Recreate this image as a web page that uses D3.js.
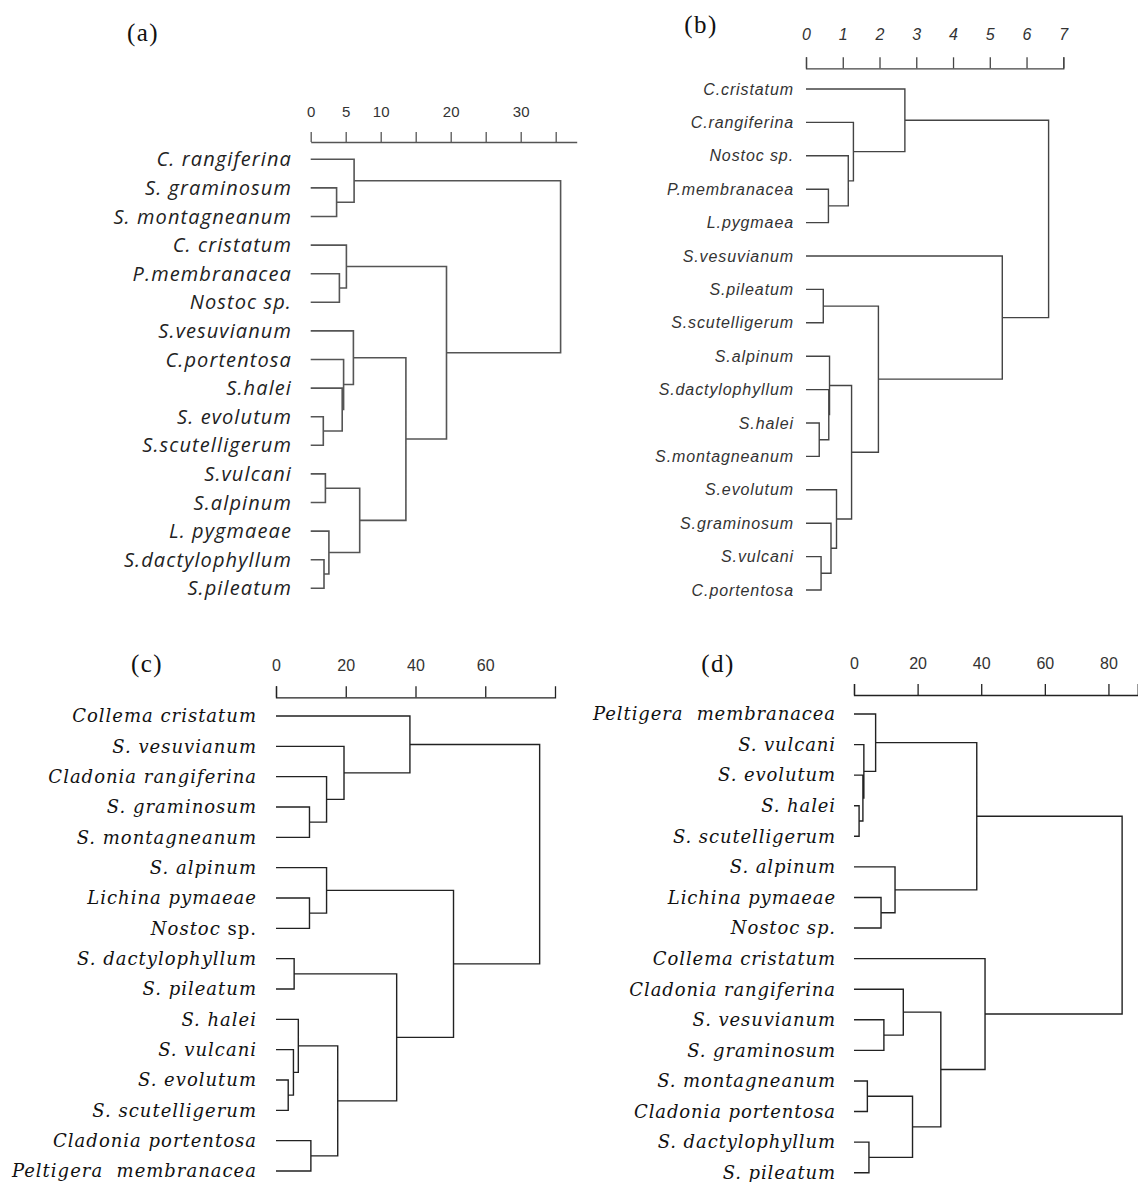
<!DOCTYPE html>
<html>
<head>
<meta charset="utf-8">
<script src="https://cdn.jsdelivr.net/npm/d3@7"></script>
<style>
  body { margin: 0; background: #fff; }
  svg text { white-space: pre; }
</style>
</head>
<body>
<div class="d3-container"></div>
<script>
// leaf order (top to bottom) and merges [left, right, height]; merge k makes node leaves.length + k
const leavesA = ["C. rangiferina", "S. graminosum", "S. montagneanum", "C. cristatum", "P.membranacea",
  "Nostoc sp.", "S.vesuvianum", "C.portentosa", "S.halei", "S. evolutum", "S.scutelligerum",
  "S.vulcani", "S.alpinum", "L. pygmaeae", "S.dactylophyllum", "S.pileatum"];
const mergesA = [[9, 10, 1.8], [14, 15, 1.9], [11, 12, 2.1], [13, 17, 2.6], [1, 2, 3.7],
  [4, 5, 4.1], [8, 16, 4.5], [7, 22, 4.7], [3, 21, 5.1], [6, 23, 6.1], [0, 20, 6.2],
  [18, 19, 7.0], [25, 27, 13.6], [24, 28, 19.4], [26, 29, 35.7]];
const ticksA = [0, 5, 10, 15, 20, 25, 30, 35];
const tickLabelsA = ["0", "5", "10", "", "20", "", "30", ""];

const leavesB = ["C.cristatum", "C.rangiferina", "Nostoc sp.", "P.membranacea", "L.pygmaea",
  "S.vesuvianum", "S.pileatum", "S.scutelligerum", "S.alpinum", "S.dactylophyllum", "S.halei",
  "S.montagneanum", "S.evolutum", "S.graminosum", "S.vulcani", "C.portentosa"];
const mergesB = [[10, 11, 0.36], [14, 15, 0.41], [6, 7, 0.47], [3, 4, 0.61], [9, 16, 0.62],
  [8, 20, 0.64], [13, 17, 0.68], [12, 22, 0.83], [2, 19, 1.15], [21, 23, 1.24], [1, 24, 1.29],
  [18, 25, 1.97], [0, 26, 2.69], [5, 27, 5.34], [28, 29, 6.6]];
const ticksB = [0, 1, 2, 3, 4, 5, 6, 7];

const leavesC = ["Collema cristatum", "S. vesuvianum", "Cladonia rangiferina", "S. graminosum",
  "S. montagneanum", "S. alpinum", "Lichina pymaeae", "Nostoc sp.", "S. dactylophyllum",
  "S. pileatum", "S. halei", "S. vulcani", "S. evolutum", "S. scutelligerum",
  "Cladonia portentosa", "Peltigera  membranacea"];
const mergesC = [[12, 13, 3.5], [11, 16, 5.0], [8, 9, 5.2], [10, 17, 6.4], [3, 4, 9.6],
  [6, 7, 9.6], [14, 15, 10.0], [2, 20, 14.5], [5, 21, 14.5], [19, 22, 17.7], [1, 23, 19.5],
  [18, 25, 34.6], [0, 26, 38.4], [24, 27, 50.9], [28, 29, 75.6]];
const ticksC = [0, 20, 40, 60];

const leavesD = ["Peltigera  membranacea", "S. vulcani", "S. evolutum", "S. halei",
  "S. scutelligerum", "S. alpinum", "Lichina pymaeae", "Nostoc sp.", "Collema cristatum",
  "Cladonia rangiferina", "S. vesuvianum", "S. graminosum", "S. montagneanum",
  "Cladonia portentosa", "S. dactylophyllum", "S. pileatum"];
const mergesD = [[3, 4, 1.6], [2, 16, 2.8], [1, 17, 3.1], [12, 13, 4.2], [14, 15, 4.7],
  [0, 18, 6.8], [6, 7, 8.5], [10, 11, 9.4], [5, 22, 12.9], [9, 23, 15.5], [19, 20, 18.4],
  [25, 26, 27.3], [21, 24, 38.6], [8, 27, 41.2], [28, 29, 84.3]];
const ticksD = [0, 20, 40, 60, 80];

const svg = d3.select(".d3-container").append("svg")
  .attr("width", 1138)
  .attr("height", 1182);

const buildTree = function(leaves, merges) {
  var nodes = leaves.map((name) => ({name: name, h: 0}));
  merges.forEach((m) => {
    nodes.push({h: m[2], children: [nodes[m[0]], nodes[m[1]]]});
  });
  return d3.hierarchy(nodes[nodes.length - 1]);
}

const drawPanel = function(p) {
  var g = svg.append("g");
  var x = d3.scaleLinear().domain(p.domain).range(p.xRange);
  var y = d3.scalePoint().domain(p.leaves).range(p.yRange);

  var root = buildTree(p.leaves, p.merges);
  root.eachAfter((n) => {
    n.py = n.children ? d3.mean(n.children, (c) => c.py) : y(n.data.name);
  });

  // axis on top
  var axis = d3.axisTop(x)
    .tickValues(p.ticks)
    .tickSize(p.tickSize)
    .tickSizeOuter(p.outer)
    .tickPadding(p.tickPad)
    .tickFormat((d, i) => p.tickLabels ? p.tickLabels[i] : d);
  var ag = g.append("g")
    .attr("transform", "translate(0," + p.axisY + ")")
    .call(axis);
  ag.selectAll("path, line").attr("stroke", p.stroke).attr("stroke-width", 1.3);
  ag.selectAll("text")
    .attr("font-family", p.tickFont)
    .attr("font-size", p.tickSizePx)
    .attr("font-style", p.tickItalic ? "italic" : "normal")
    .attr("fill", "#333");

  // elbow links
  var d = "";
  root.links().forEach((l) => {
    d += "M" + x(l.target.data.h) + "," + l.target.py + "H" + x(l.source.data.h) + "V" + l.source.py;
  });
  g.append("path")
    .attr("d", d)
    .style("fill", "none")
    .style("stroke", p.stroke)
    .style("stroke-width", p.lineW);

  // leaf labels
  var labels = g.selectAll("text.leaf")
    .data(root.leaves())
    .enter()
    .append("text")
    .attr("class", "leaf")
    .attr("x", p.labelX)
    .attr("y", (n) => n.py)
    .attr("dy", "0.35em")
    .attr("text-anchor", "end")
    .attr("font-family", p.labelFont)
    .attr("font-size", p.labelSize)
    .attr("letter-spacing", p.labelSpacing)
    .attr("fill", p.labelColor)
    .attr("font-style", "italic");
  labels.each(function(n) {
    var t = d3.select(this);
    var name = n.data.name;
    if (p.uprightSp && name.endsWith(" sp.")) {
      t.append("tspan").text(name.slice(0, -3));
      t.append("tspan").attr("font-style", "normal").text("sp.");
    } else {
      t.text(name);
    }
  });

  // panel letter
  g.append("text")
    .attr("x", p.titleX)
    .attr("y", p.titleY)
    .attr("text-anchor", "middle")
    .attr("font-family", "Liberation Serif, Times New Roman, serif")
    .attr("font-size", 25)
    .attr("letter-spacing", 1.5)
    .attr("fill", "#111")
    .text(p.title);
}

drawPanel({
  leaves: leavesA, merges: mergesA, ticks: ticksA, tickLabels: tickLabelsA,
  domain: [0, 38], xRange: [310.7, 576.7], yRange: [159.3, 588.3],
  axisY: 142, tickSize: 10, outer: 0, tickPad: 15,
  tickFont: "Liberation Sans, Arial, sans-serif", tickSizePx: 15, tickItalic: false,
  stroke: "#555", lineW: 1.6,
  labelX: 292, labelFont: "Open Sans, sans-serif", labelSize: 20, labelSpacing: 1.1, labelColor: "#222",
  title: "(a)", titleX: 143, titleY: 41
});

drawPanel({
  leaves: leavesB, merges: mergesB, ticks: ticksB,
  domain: [0, 7], xRange: [806, 1063.3], yRange: [89, 590],
  axisY: 68.3, tickSize: 11, outer: 11, tickPad: 17,
  tickFont: "Liberation Sans, Arial, sans-serif", tickSizePx: 16, tickItalic: true,
  stroke: "#444", lineW: 1.4,
  labelX: 794, labelFont: "Liberation Sans, Arial, sans-serif", labelSize: 16, labelSpacing: 0.9, labelColor: "#333",
  title: "(b)", titleX: 701, titleY: 33
});

drawPanel({
  leaves: leavesC, merges: mergesC, ticks: ticksC, uprightSp: true,
  domain: [0, 80], xRange: [276, 555], yRange: [716, 1171],
  axisY: 697.3, tickSize: 11, outer: 11, tickPad: 15,
  tickFont: "Liberation Sans, Arial, sans-serif", tickSizePx: 16, tickItalic: false,
  stroke: "#222", lineW: 1.4,
  labelX: 257, labelFont: "DejaVu Serif, serif", labelSize: 18, labelSpacing: 1.0, labelColor: "#111",
  title: "(c)", titleX: 147, titleY: 672
});

drawPanel({
  leaves: leavesD, merges: mergesD, ticks: ticksD,
  domain: [0, 89.2], xRange: [854, 1137.7], yRange: [714, 1172.7],
  axisY: 695, tickSize: 11, outer: 11, tickPad: 15,
  tickFont: "Liberation Sans, Arial, sans-serif", tickSizePx: 16, tickItalic: false,
  stroke: "#222", lineW: 1.4,
  labelX: 836, labelFont: "DejaVu Serif, serif", labelSize: 18, labelSpacing: 0.9, labelColor: "#111",
  title: "(d)", titleX: 718, titleY: 672
});
</script>
</body>
</html>
